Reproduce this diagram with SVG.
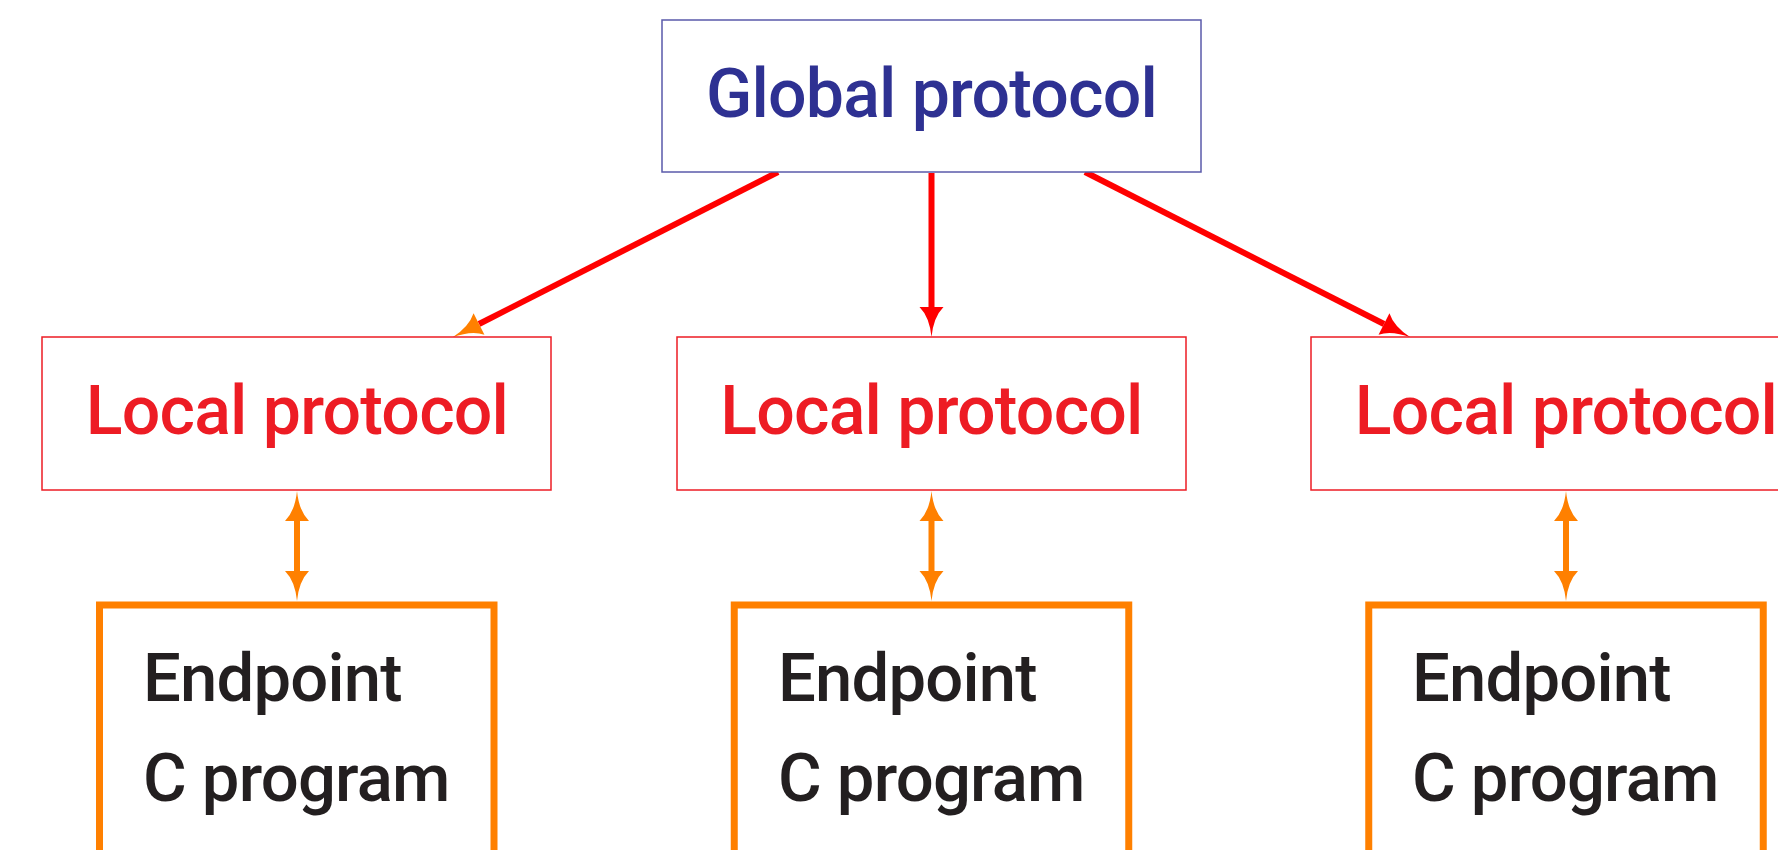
<svg xmlns="http://www.w3.org/2000/svg" width="1778" height="850" viewBox="0 0 1778 850">
<style>
.glob{fill:#ffffff;stroke:#5a5aaa;stroke-width:1.5}
.loc{fill:#ffffff;stroke:#ed1c24;stroke-width:1.5}
.ep{fill:#ffffff;stroke:#ff8000;stroke-width:7}
.t{font-family:Roboto,"Liberation Sans",sans-serif;font-weight:500;letter-spacing:-0.8px}
.gt{fill:#2e3192;font-size:68px;text-anchor:middle}
.lt{fill:#ed1c24;font-size:68px;text-anchor:middle}
.et{fill:#231f20;font-size:67px}
.red{stroke:#ff0000;stroke-width:6;fill:none}
.org{stroke:#ff8000;stroke-width:6;fill:none}
</style>
<defs>
<marker id="hr" markerUnits="userSpaceOnUse" markerWidth="40" markerHeight="30" viewBox="-2 -15 40 30" refX="0" refY="0" orient="auto-start-reverse">
<path d="M30,0 Q10,-2 0,-12 L0,12 Q10,2 30,0 Z" fill="#ff0000"/>
</marker>
<marker id="ho" markerUnits="userSpaceOnUse" markerWidth="40" markerHeight="30" viewBox="-2 -15 40 30" refX="0" refY="0" orient="auto-start-reverse">
<path d="M30,0 Q10,-2 0,-12 L0,12 Q10,2 30,0 Z" fill="#ff8000"/>
</marker>
</defs>
<rect width="1778" height="850" fill="#ffffff"/>
<g id="connectors">
<line class="red" x1="778" y1="172" x2="479" y2="324" marker-end="url(#ho)"/>
<line class="red" x1="931.5" y1="173" x2="931.5" y2="307" marker-end="url(#hr)"/>
<line class="red" x1="1085" y1="172" x2="1384" y2="324" marker-end="url(#hr)"/>
<line class="org" x1="297" y1="521" x2="297" y2="571" marker-start="url(#ho)" marker-end="url(#ho)"/>
<line class="org" x1="931.5" y1="521" x2="931.5" y2="571" marker-start="url(#ho)" marker-end="url(#ho)"/>
<line class="org" x1="1566" y1="521" x2="1566" y2="571" marker-start="url(#ho)" marker-end="url(#ho)"/>
</g>
<g id="global">
<rect class="glob" x="662" y="20" width="539" height="152"/>
<text class="t gt" x="931.5" y="117">Global protocol</text>
</g>
<g id="local1">
<rect class="loc" x="42" y="337" width="509" height="153"/>
<text class="t lt" x="297" y="434">Local protocol</text>
</g>
<g id="local2">
<rect class="loc" x="677" y="337" width="509" height="153"/>
<text class="t lt" x="931.5" y="434">Local protocol</text>
</g>
<g id="local3">
<rect class="loc" x="1311" y="337" width="509" height="153"/>
<text class="t lt" x="1566" y="434">Local protocol</text>
</g>
<g id="endpoint1">
<rect class="ep" x="99.5" y="605" width="394.5" height="300"/>
<text class="t et" x="143" y="701">Endpoint</text>
<text class="t et" x="143" y="801">C program</text>
</g>
<g id="endpoint2">
<rect class="ep" x="734.25" y="605" width="394.5" height="300"/>
<text class="t et" x="778" y="701">Endpoint</text>
<text class="t et" x="778" y="801">C program</text>
</g>
<g id="endpoint3">
<rect class="ep" x="1368.75" y="605" width="394.5" height="300"/>
<text class="t et" x="1412" y="701">Endpoint</text>
<text class="t et" x="1412" y="801">C program</text>
</g>
</svg>
